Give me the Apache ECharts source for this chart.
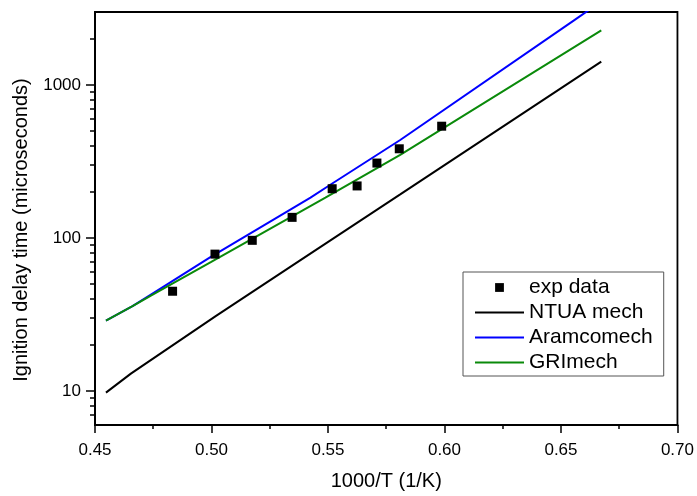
<!DOCTYPE html>
<html><head><meta charset="utf-8">
<script src="https://cdn.jsdelivr.net/npm/echarts@6/dist/echarts.min.js"></script>
<style>html,body{margin:0;padding:0;background:#fff}#c{width:697px;height:496px}</style>
</head><body><div id="c"></div>
<script>
// Experimental data
const expX = [0.4833, 0.5015, 0.5175, 0.5346, 0.5518, 0.5625, 0.5710, 0.5806, 0.5988];
const expY = [44.9, 78.5, 96.6, 136.5, 210, 219, 309, 383, 538];
// NTUA mech
const ntuaX = [0.4547, 0.4654, 0.5018, 0.5382, 0.5810, 0.6673];
const ntuaY = [9.77, 13.0, 30.9, 71.8, 193, 1423];
// Aramcomech
const aramX = [0.4547, 0.4661, 0.4740, 0.4997, 0.5425, 0.5510, 0.5810, 0.6559, 0.6673];
const aramY = [28.9, 35.9, 42.7, 75.3, 183.9, 223.0, 437, 2666, 3514];
// GRImech
const griX = [0.4547, 0.4661, 0.4740, 0.4997, 0.5489, 0.5810, 0.6673];
const griY = [28.9, 35.9, 42.1, 69.5, 183.9, 350, 2275];

const seriesNames = ['exp data', 'NTUA mech', 'Aramcomech', 'GRImech'];
const yMajorTicks = [10, 100, 1000];
const yMinorTicks = [7, 8, 9, 20, 30, 40, 50, 60, 70, 80, 90, 200, 300, 400, 500, 600, 700, 800, 900, 2000];

const FONT = '"Liberation Sans", Arial, sans-serif';
const pairs = (xs, ys) => xs.map((x, i) => [x, ys[i]]);
const axisLineStyle = {color: '#000', width: 2};
const tickStyle = {color: '#000', width: 1.5};

const chart = echarts.init(document.getElementById('c'), null, {renderer: 'canvas'});
chart.setOption({
  animation: false,
  backgroundColor: '#fff',
  grid: {left: 95, right: 18, top: 12, bottom: 67, show: true, borderColor: '#000', borderWidth: 1.8, backgroundColor: 'transparent'},
  xAxis: {
    type: 'value', min: 0.45, max: 0.70, interval: 0.05,
    name: '1000/T (1/K)', nameLocation: 'middle', nameGap: 46,
    nameTextStyle: {fontSize: 20, fontFamily: FONT, color: '#000'},
    axisLine: {show: true, onZero: false, lineStyle: axisLineStyle},
    axisTick: {show: true, inside: false, length: 8, lineStyle: tickStyle},
    minorTick: {show: true, splitNumber: 2, length: 4, lineStyle: tickStyle},
    splitLine: {show: false}, minorSplitLine: {show: false},
    axisLabel: {fontSize: 17, fontFamily: FONT, color: '#000', margin: 17, formatter: v => v.toFixed(2)}
  },
  yAxis: [{
    type: 'log', logBase: 10, min: 6, max: 3000, position: 'left',
    name: 'Ignition delay time (microseconds)', nameLocation: 'middle', nameGap: 64, nameRotate: 90,
    nameTextStyle: {fontSize: 20, fontFamily: FONT, color: '#000', padding: [0, 23, 0, 0]},
    axisLine: {show: true, onZero: false, lineStyle: axisLineStyle},
    axisTick: {show: true, length: 9, customValues: yMajorTicks, lineStyle: tickStyle},
    axisLabel: {customValues: yMajorTicks, fontSize: 17, fontFamily: FONT, color: '#000', margin: 14, formatter: v => String(v)},
    splitLine: {show: false}, minorTick: {show: false}
  }, {
    type: 'log', logBase: 10, min: 6, max: 3000, position: 'left', offset: 0,
    axisLine: {show: false},
    axisTick: {show: true, length: 5, customValues: yMinorTicks, lineStyle: tickStyle},
    axisLabel: {show: false},
    splitLine: {show: false}
  }],
  legend: {
    orient: 'vertical', left: 463, top: 272, padding: [5, 11, 3, 11], itemGap: 4,
    itemWidth: 49, itemHeight: 11,
    borderColor: '#555', borderWidth: 1, backgroundColor: '#fff',
    textStyle: {fontSize: 21, fontFamily: FONT, color: '#000'},
    data: [
      {name: seriesNames[0], lineStyle: {opacity: 0, width: 0}},
      {name: seriesNames[1], itemStyle: {opacity: 0}},
      {name: seriesNames[2], itemStyle: {opacity: 0}},
      {name: seriesNames[3], itemStyle: {opacity: 0}}
    ]
  },
  series: [
    {name: seriesNames[1], type: 'line', data: pairs(ntuaX, ntuaY), symbol: 'none', showSymbol: false, color: '#000', lineStyle: {color: '#000', width: 2}, z: 2},
    {name: seriesNames[2], type: 'line', data: pairs(aramX, aramY), symbol: 'none', showSymbol: false, color: '#0000ff', lineStyle: {color: '#0000ff', width: 2}, z: 3},
    {name: seriesNames[3], type: 'line', data: pairs(griX, griY), symbol: 'none', showSymbol: false, color: '#0a8a0a', lineStyle: {color: '#0a8a0a', width: 2}, z: 4},
    {name: seriesNames[0], type: 'line', data: pairs(expX, expY), symbol: 'rect', symbolSize: 9, showSymbol: true, color: '#000', itemStyle: {color: '#000'}, lineStyle: {width: 0, opacity: 0}, z: 5}
  ]
});
</script>
</body></html>
